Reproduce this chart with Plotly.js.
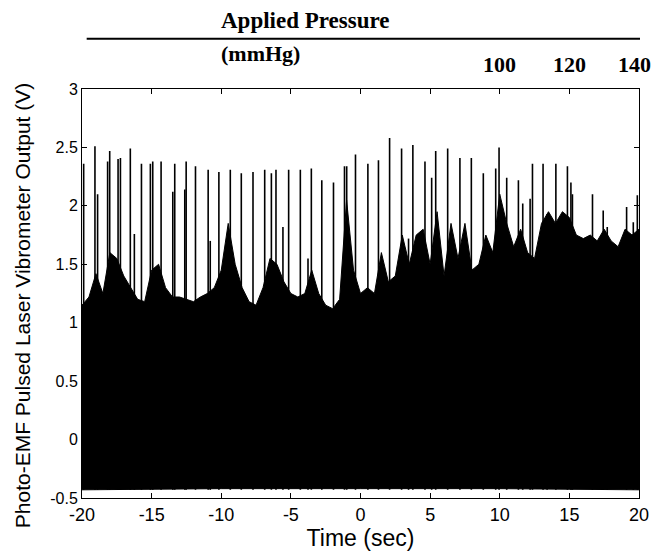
<!DOCTYPE html>
<html>
<head>
<meta charset="utf-8">
<script src="https://cdn.plot.ly/plotly-3.0.1.min.js"></script>
<style>html,body{margin:0;padding:0;background:#fff;}#chart{width:663px;height:555px;}</style>
</head>
<body>
<div id="chart"></div>
<script>
// Tall heartbeat spikes: time (s) and peak value (V)
const spikeT = [-19.88,-19.07,-18.88,-18.16,-18.01,-17.41,-17.24,-16.53,-16.24,-15.73,-15.09,-14.92,-14.32,-13.48,-13.34,-12.62,-12.52,-11.85,
  -10.94,-10.79,-10.17,-9.35,-8.56,-7.72,-6.88,-6.40,-6.07,-5.57,-5.16,-4.32,-3.77,-3.53,-2.78,-1.94,-1.15,-0.99,-0.36,
  0.53,1.29,2.09,2.95,3.45,3.76,4.63,5.11,5.40,6.26,7.14,7.96,8.82,9.71,9.95,10.50,11.34,11.65,12.18,12.35,
  13.11,13.40,14.03,14.86,15.11,15.22,16.66,17.43,17.72,19.11,19.59,19.88];
const spikeV = [2.36,2.51,2.10,2.38,2.47,2.40,2.41,2.49,1.76,2.36,2.36,2.38,2.38,2.12,2.36,2.14,2.38,2.34,
  2.31,1.70,2.29,2.31,2.28,2.29,2.31,2.28,2.31,1.82,2.31,2.31,1.55,2.32,2.22,2.20,2.34,2.34,2.44,
  2.36,2.39,2.58,2.49,1.72,2.52,2.38,2.24,2.47,2.49,2.41,2.41,2.28,2.32,2.50,2.24,2.22,2.02,2.06,2.36,
  2.36,1.93,2.36,2.34,2.20,2.10,2.10,1.96,1.82,1.99,1.86,2.09];

// Upper edge of the dense oscillation band (V), read every 0.5 s
const envT = [-20,-19.5,-19,-18.5,-18,-17.5,-17,-16.5,-16,-15.5,-15,-14.5,-14,-13.5,-13,-12.5,-12,-11.5,-11,-10.5,
  -10,-9.5,-9,-8.5,-8,-7.5,-7,-6.5,-6,-5.5,-5,-4.5,-4,-3.5,-3,-2.5,-2,-1.5,-1,-0.5,
  0,0.5,1,1.5,2,2.5,3,3.5,4,4.5,5,5.5,6,6.5,7,7.5,8,8.5,9,9.5,
  10,10.5,11,11.5,12,12.5,13,13.5,14,14.5,15,15.5,16,16.5,17,17.5,18,18.5,19,19.5,20];
const envHi = [1.15,1.22,1.42,1.25,1.60,1.55,1.40,1.30,1.20,1.18,1.45,1.50,1.30,1.22,1.22,1.20,1.18,1.22,1.25,1.30,
  1.45,1.85,1.50,1.30,1.18,1.15,1.30,1.55,1.50,1.35,1.25,1.22,1.25,1.45,1.25,1.15,1.12,1.20,2.05,1.45,
  1.25,1.30,1.25,1.60,1.35,1.40,1.75,1.50,1.75,1.80,1.50,1.95,1.40,1.85,1.55,1.85,1.45,1.50,1.75,1.60,
  2.10,1.85,1.65,1.80,1.60,1.55,1.85,1.95,1.85,1.95,1.90,1.75,1.72,1.75,1.70,1.80,1.70,1.65,1.80,1.75,1.80];

// Lower edge of the band (V)
const lowT = [-20,-10,0,10,20];
const lowV = [-0.43,-0.42,-0.42,-0.42,-0.43];

// Axis ticks
const xTickVals = [-20,-15,-10,-5,0,5,10,15,20];
const xTickText = ['-20','-15','-10','-5','0','5','10','15','20'];
const yTickVals = [-0.5,0,0.5,1,1.5,2,2.5,3];
const yTickText = ['-0.5','0','0.5','1','1.5','2','2.5','3'];

// Applied pressure labels above the plot
const pressureT = [10,15,19.7];
const pressureLabel = ['100','120','140'];

// band polygon
const bandX = envT.concat(lowT.slice().reverse());
const bandY = envHi.concat(lowV.slice().reverse());

// spike segments
const sx = [], sy = [];
for (let i = 0; i < spikeT.length; i++) {
  sx.push(spikeT[i], spikeT[i], null);
  sy.push(lowV[0], spikeV[i], null);
}

const traces = [
  {x: bandX, y: bandY, type: 'scatter', mode: 'lines', fill: 'toself',
   fillcolor: '#000', line: {color: '#000', width: 1}, hoverinfo: 'skip', showlegend: false},
  {x: sx, y: sy, type: 'scatter', mode: 'lines',
   line: {color: '#000', width: 1.6}, hoverinfo: 'skip', showlegend: false}
];

const sans = 'Liberation Sans, Arial, sans-serif';
const serif = 'Liberation Serif, Times New Roman, serif';

const ann = [
  {text: 'Applied Pressure', xref: 'paper', yref: 'paper', x: 0.246, y: 1.1687,
   xanchor: 'left', yanchor: 'middle', showarrow: false,
   font: {family: serif, size: 23, color: '#000', weight: 'bold'}},
  {text: '(mmHg)', xref: 'paper', yref: 'paper', x: 0.246, y: 1.088,
   xanchor: 'left', yanchor: 'middle', showarrow: false,
   font: {family: serif, size: 22, color: '#000', weight: 'bold'}},
  {text: 'Photo-EMF Pulsed Laser Vibrometer Output (V)', xref: 'paper', yref: 'paper',
   x: -0.1077, y: 0.469, xanchor: 'center', yanchor: 'middle', textangle: -90, showarrow: false,
   font: {family: sans, size: 21, color: '#000'}}
];
for (let i = 0; i < pressureT.length; i++) {
  ann.push({text: pressureLabel[i], xref: 'x', yref: 'paper', x: pressureT[i], y: 1.0587,
    xanchor: 'center', yanchor: 'middle', showarrow: false,
    font: {family: serif, size: 22, color: '#000', weight: 'bold'}});
}

const layout = {
  width: 663, height: 555,
  margin: {l: 82, r: 24, t: 89, b: 57},
  paper_bgcolor: '#fff', plot_bgcolor: '#fff',
  showlegend: false,
  xaxis: {
    range: [-20, 20], tickvals: xTickVals, ticktext: xTickText,
    ticks: 'inside', ticklen: 5, tickcolor: '#000', mirror: 'ticks',
    showline: true, linecolor: '#000', linewidth: 1,
    showgrid: false, zeroline: false,
    tickfont: {family: sans, size: 18, color: '#000'},
    title: {text: 'Time (sec)', font: {family: sans, size: 23, color: '#000'}, standoff: 4}
  },
  yaxis: {
    range: [-0.5, 3], tickvals: yTickVals, ticktext: yTickText,
    ticks: 'inside', ticklen: 5, tickcolor: '#000', mirror: 'ticks',
    showline: true, linecolor: '#000', linewidth: 1,
    showgrid: false, zeroline: false,
    tickfont: {family: sans, size: 16, color: '#000'}
  },
  annotations: ann,
  shapes: [
    {type: 'line', xref: 'paper', yref: 'paper', x0: 0.0084, x1: 1.0018, y0: 1.123, y1: 1.123,
     line: {color: '#000', width: 2}}
  ]
};

Plotly.newPlot('chart', traces, layout, {displayModeBar: false, staticPlot: true});
</script>
</body>
</html>
